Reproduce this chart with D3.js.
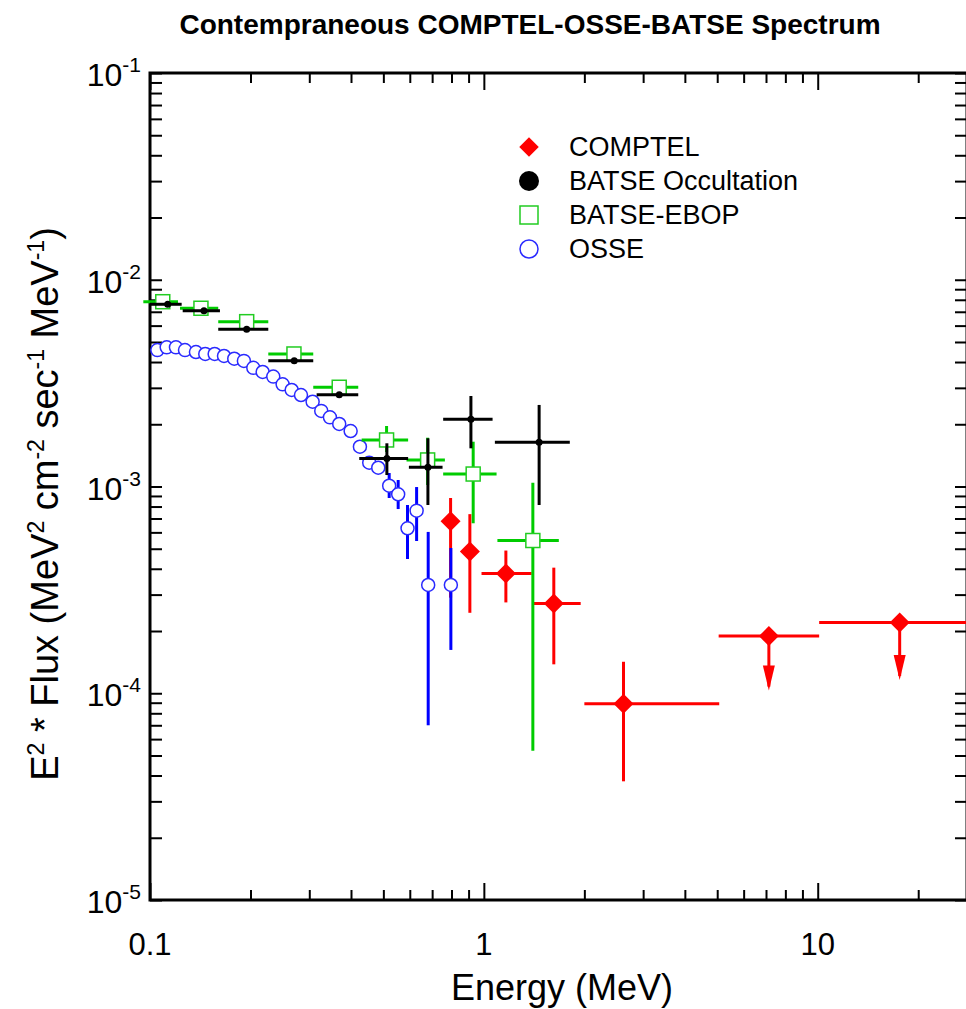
<!DOCTYPE html>
<html>
<head>
<meta charset="utf-8">
<script src="https://cdn.jsdelivr.net/npm/d3@7"></script>
<style>
  body { margin: 0; background: #fff; }
  svg { display: block; font-family: "Liberation Sans", Arial, sans-serif; }
</style>
</head>
<body>
<svg width="966" height="1009"></svg>
<script>
// COMPTEL: diamonds, x/y error bars, two upper limits (ul = arrow tip)
var comptel = [
  {e: 0.795, elo: 0.795, ehi: 0.795, f: 6.8e-4, flo: 2.9e-4, fhi: 8.8e-4},
  {e: 0.908, elo: 0.908, ehi: 0.908, f: 4.85e-4, flo: 2.45e-4, fhi: 7.35e-4},
  {e: 1.164, elo: 0.984, ehi: 1.39, f: 3.8e-4, flo: 2.75e-4, fhi: 4.9e-4},
  {e: 1.62, elo: 1.40, ehi: 1.95, f: 2.72e-4, flo: 1.38e-4, fhi: 4.05e-4},
  {e: 2.62, elo: 2.0, ehi: 5.07, f: 8.9e-5, flo: 3.75e-5, fhi: 1.42e-4}
];
var comptelLimits = [
  {e: 7.14, elo: 5.05, ehi: 10.1, f: 1.89e-4, ul: 1.03e-4},
  {e: 17.6, elo: 10.1, ehi: 30, f: 2.2e-4, ul: 1.16e-4}
];

// BATSE occultation: small black dots
var batseOcc = [
  {e: 0.113, elo: 0.100, ehi: 0.1244, f: 7.61e-3},
  {e: 0.1451, elo: 0.1253, ehi: 0.162, f: 7.08e-3},
  {e: 0.1948, elo: 0.1601, ehi: 0.2261, f: 5.76e-3},
  {e: 0.2704, elo: 0.2261, ehi: 0.3083, f: 4.06e-3},
  {e: 0.3688, elo: 0.3156, ehi: 0.4205, f: 2.78e-3},
  {e: 0.5123, elo: 0.4234, ehi: 0.5931, f: 1.366e-3, flo: 1.136e-3, fhi: 1.618e-3},
  {e: 0.6799, elo: 0.5963, ehi: 0.7521, f: 1.239e-3, flo: 8.14e-4, fhi: 1.71e-3},
  {e: 0.9146, elo: 0.7553, ehi: 1.062, f: 2.113e-3, flo: 1.53e-3, fhi: 2.74e-3},
  {e: 1.464, elo: 1.079, ehi: 1.809, f: 1.636e-3, flo: 8.14e-4, fhi: 2.48e-3}
];

// BATSE-EBOP: open green squares
var batseEbop = [
  {e: 0.1092, elo: 0.0955, ehi: 0.1213, f: 7.83e-3},
  {e: 0.1421, elo: 0.123, ehi: 0.1601, f: 7.28e-3},
  {e: 0.1948, elo: 0.1601, ehi: 0.2261, f: 6.27e-3},
  {e: 0.2699, elo: 0.2261, ehi: 0.3083, f: 4.375e-3},
  {e: 0.3688, elo: 0.3083, ehi: 0.4205, f: 3.02e-3},
  {e: 0.5112, elo: 0.4304, ehi: 0.5931, f: 1.679e-3, flo: 1.468e-3, fhi: 1.962e-3},
  {e: 0.6785, elo: 0.5866, ehi: 0.7643, f: 1.344e-3, flo: 1.017e-3, fhi: 1.722e-3},
  {e: 0.929, elo: 0.7553, ehi: 1.0917, f: 1.149e-3, flo: 6.64e-4, fhi: 1.647e-3},
  {e: 1.402, elo: 1.098, ehi: 1.677, f: 5.48e-4, flo: 5.27e-5, fhi: 1.043e-3}
];

// OSSE: open blue circles
var osse = [
  {e: 0.1052, f: 4.57e-3}, {e: 0.1122, f: 4.71e-3}, {e: 0.1196, f: 4.71e-3},
  {e: 0.1273, f: 4.57e-3}, {e: 0.1373, f: 4.47e-3}, {e: 0.1464, f: 4.375e-3},
  {e: 0.1562, f: 4.375e-3}, {e: 0.1666, f: 4.28e-3}, {e: 0.1788, f: 4.15e-3},
  {e: 0.1911, f: 4.05e-3}, {e: 0.2039, f: 3.75e-3}, {e: 0.2175, f: 3.58e-3},
  {e: 0.234, f: 3.40e-3}, {e: 0.2496, f: 3.12e-3}, {e: 0.2657, f: 2.93e-3},
  {e: 0.2833, f: 2.77e-3}, {e: 0.307, f: 2.57e-3}, {e: 0.3258, f: 2.32e-3},
  {e: 0.3459, f: 2.16e-3}, {e: 0.3688, f: 2.006e-3}, {e: 0.399, f: 1.855e-3},
  {e: 0.4254, f: 1.557e-3}, {e: 0.4536, f: 1.303e-3}, {e: 0.4827, f: 1.233e-3},
  {e: 0.5205, f: 1.009e-3, flo: 8.8e-4, fhi: 1.162e-3},
  {e: 0.5538, f: 9.17e-4, flo: 7.78e-4, fhi: 1.075e-3},
  {e: 0.5907, f: 6.28e-4, flo: 4.46e-4, fhi: 8.14e-4},
  {e: 0.6289, f: 7.64e-4, flo: 5.45e-4, fhi: 9.94e-4},
  {e: 0.6812, f: 3.34e-4, flo: 7.0e-5, fhi: 6.03e-4},
  {e: 0.7965, f: 3.34e-4, flo: 1.62e-4, fhi: 5.04e-4}
];

var legendNames = ["COMPTEL", "BATSE Occultation", "BATSE-EBOP", "OSSE"];
var xMajor = [0.1, 1, 10];
var xMinor = [0.2, 0.3, 0.4, 0.5, 0.6, 0.7, 0.8, 0.9, 2, 3, 4, 5, 6, 7, 8, 9, 20];
var yMajor = [1e-1, 1e-2, 1e-3, 1e-4, 1e-5];
var yExp = ["-1", "-2", "-3", "-4", "-5"];
var xLabels = ["0.1", "1", "10"];

function spectrum() {

var svg = d3.select("svg"),
    box = {left: 150, right: 967, top: 73, bottom: 900};

var x = d3.scaleLog().domain([0.1, 28]).range([box.left, box.right]);
var y = d3.scaleLog().domain([1e-5, 1e-1]).range([box.bottom, box.top]);

var yMinor = [];
yMajor.slice(0, 4).forEach(function(m) {
  for (var k = 2; k <= 9; k++) yMinor.push(m / 10 * k);
});

// axes: ticks point inward, labels only on bottom/left
function tickAxis(axis, pos, vals, size) {
  var g = svg.append("g")
      .attr("transform", pos)
      .call(axis.tickValues(vals).tickSize(size).tickFormat(""));
  g.select(".domain").remove();
  g.selectAll("line").attr("stroke", "#000").attr("stroke-width", 2);
}
tickAxis(d3.axisBottom(x), "translate(0," + box.bottom + ")", xMajor, -17);
tickAxis(d3.axisBottom(x), "translate(0," + box.bottom + ")", xMinor, -10);
tickAxis(d3.axisTop(x), "translate(0," + box.top + ")", xMajor, -17);
tickAxis(d3.axisTop(x), "translate(0," + box.top + ")", xMinor, -10);
tickAxis(d3.axisLeft(y), "translate(" + box.left + ",0)", yMajor.concat(yMinor), -12);
tickAxis(d3.axisRight(y), "translate(" + box.right + ",0)", yMajor.concat(yMinor), -12);

svg.append("rect")
    .attr("x", box.left).attr("y", box.top)
    .attr("width", box.right - box.left).attr("height", box.bottom - box.top)
    .attr("fill", "none").attr("stroke", "#000").attr("stroke-width", 3);

var yl = svg.append("g").selectAll("text")
  .data(yMajor).enter().append("text")
    .attr("x", 141)
    .attr("y", function(d) { return y(d) + 13; })
    .attr("text-anchor", "end")
    .attr("font-size", 32);
yl.append("tspan").text("10");
yl.append("tspan").attr("dy", -14).attr("font-size", 21)
    .text(function(d, i) { return yExp[i]; });

svg.append("g").selectAll("text")
  .data(xMajor).enter().append("text")
    .attr("x", function(d) { return x(d); })
    .attr("y", 955)
    .attr("text-anchor", "middle")
    .attr("font-size", 31)
    .text(function(d, i) { return xLabels[i]; });

svg.append("text")
    .attr("x", 530).attr("y", 34)
    .attr("text-anchor", "middle")
    .attr("font-size", 28).attr("font-weight", "bold")
    .text("Contempraneous COMPTEL-OSSE-BATSE Spectrum");

svg.append("text")
    .attr("x", 562).attr("y", 1000)
    .attr("text-anchor", "middle")
    .attr("font-size", 36)
    .text("Energy (MeV)");

var yt = svg.append("text")
    .attr("transform", "translate(58,504) rotate(-90)")
    .attr("text-anchor", "middle")
    .attr("font-size", 38);
[["E", 0], ["2", 1], [" * Flux (MeV", 0], ["2", 1], [" cm", 0], ["-2", 1],
 [" sec", 0], ["-1", 1], [" MeV", 0], ["-1", 1], [")", 0]].forEach(function(p, i, arr) {
  var t = yt.append("tspan").text(p[0]);
  if (p[1]) t.attr("font-size", 23).attr("dy", -14);
  else if (i > 0 && arr[i - 1][1]) t.attr("dy", 14);
});

// data marks
var plot = svg.append("g");

function xBars(g, data, color) {
  g.selectAll(null).data(data.filter(function(d) { return d.elo !== d.ehi; }))
    .enter().append("line")
      .attr("x1", function(d) { return x(d.elo); })
      .attr("x2", function(d) { return x(d.ehi); })
      .attr("y1", function(d) { return y(d.f); })
      .attr("y2", function(d) { return y(d.f); })
      .attr("stroke", color).attr("stroke-width", 3);
}
function yBars(g, data, color) {
  g.selectAll(null).data(data.filter(function(d) { return d.flo !== undefined; }))
    .enter().append("line")
      .attr("x1", function(d) { return x(d.e); })
      .attr("x2", function(d) { return x(d.e); })
      .attr("y1", function(d) { return y(d.flo); })
      .attr("y2", function(d) { return y(d.fhi); })
      .attr("stroke", color).attr("stroke-width", 3);
}

var diamond = d3.symbol().type(d3.symbolSquare).size(200);

// COMPTEL
var gC = plot.append("g");
xBars(gC, comptel.concat(comptelLimits), "#ff0000");
yBars(gC, comptel, "#ff0000");
gC.selectAll(null).data(comptelLimits).enter().append("line")
    .attr("x1", function(d) { return x(d.e); })
    .attr("x2", function(d) { return x(d.e); })
    .attr("y1", function(d) { return y(d.f); })
    .attr("y2", function(d) { return y(d.ul) - 4; })
    .attr("stroke", "#ff0000").attr("stroke-width", 3);
gC.selectAll(null).data(comptelLimits).enter().append("path")
    .attr("d", function(d) {
      var px = x(d.e), py = y(d.ul);
      return "M" + (px - 6) + "," + (py - 25) + "L" + (px + 6) + "," + (py - 25) + "L" + px + "," + py + "Z";
    })
    .attr("fill", "#ff0000");
gC.selectAll(null).data(comptel.concat(comptelLimits)).enter().append("path")
    .attr("d", diamond)
    .attr("transform", function(d) { return "translate(" + x(d.e) + "," + y(d.f) + ") rotate(45)"; })
    .attr("fill", "#ff0000");

// OSSE
var gO = plot.append("g");
yBars(gO, osse, "#0000ff");
gO.selectAll(null).data(osse).enter().append("circle")
    .attr("cx", function(d) { return x(d.e); })
    .attr("cy", function(d) { return y(d.f); })
    .attr("r", 6.5)
    .attr("fill", "#fff").attr("stroke", "#2a2aff").attr("stroke-width", 1.5);

// BATSE-EBOP
var gE = plot.append("g");
xBars(gE, batseEbop, "#00cc00");
yBars(gE, batseEbop, "#00cc00");
gE.selectAll(null).data(batseEbop).enter().append("rect")
    .attr("x", function(d) { return x(d.e) - 7; })
    .attr("y", function(d) { return y(d.f) - 7; })
    .attr("width", 14).attr("height", 14)
    .attr("fill", "#fff").attr("stroke", "#22cc22").attr("stroke-width", 1.5);

// BATSE occultation
var gB = plot.append("g");
xBars(gB, batseOcc, "#000");
yBars(gB, batseOcc, "#000");
gB.selectAll(null).data(batseOcc).enter().append("circle")
    .attr("cx", function(d) { return x(d.e); })
    .attr("cy", function(d) { return y(d.f); })
    .attr("r", 3.5).attr("fill", "#000");

// legend
var lg = svg.append("g").attr("transform", "translate(529,147)");
var row = 34;
lg.append("path").attr("d", d3.symbol().type(d3.symbolSquare).size(190))
    .attr("transform", "rotate(45)").attr("fill", "#ff0000");
lg.append("circle").attr("cy", row).attr("r", 10).attr("fill", "#000");
lg.append("rect").attr("x", -9).attr("y", 2 * row - 9).attr("width", 18).attr("height", 18)
    .attr("fill", "#fff").attr("stroke", "#22cc22").attr("stroke-width", 1.5);
lg.append("circle").attr("cy", 3 * row).attr("r", 9)
    .attr("fill", "#fff").attr("stroke", "#2a2aff").attr("stroke-width", 1.5);
lg.selectAll("text").data(legendNames).enter().append("text")
    .attr("x", 40)
    .attr("y", function(d, i) { return i * row + 9; })
    .attr("font-size", 27)
    .text(function(d) { return d; });
}

spectrum();
</script>
</body>
</html>
